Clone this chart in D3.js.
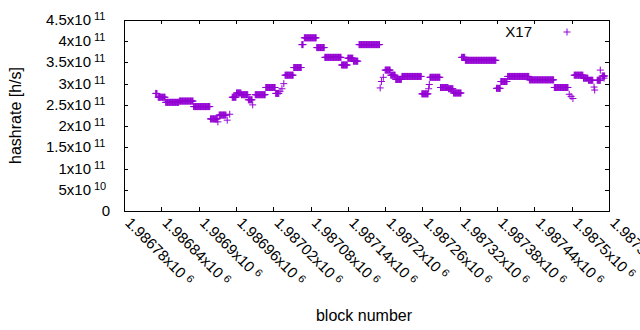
<!DOCTYPE html>
<html>
<head>
<meta charset="utf-8">
<script src="https://cdn.jsdelivr.net/npm/d3@7"></script>
<style>
  body { margin: 0; background: #fff; }
  text { font-family: "Liberation Sans", Arial, sans-serif; fill: #000; }
</style>
</head>
<body>
<div id="chart"></div>
<script>
// runs of blocks sharing the same hashrate (first block, last block, hashrate)
const runStart = [1986831, 1986835, 1986847, 1986869, 1986892, 1986919, 1986931, 1986933, 1986946, 1986950,
  1986954, 1986961, 1986969, 1986980, 1986987, 1986991, 1987008, 1987024, 1987031, 1987034,
  1987037, 1987039, 1987053, 1987066, 1987070, 1987090, 1987103, 1987130, 1987140, 1987149,
  1987158, 1987192, 1987194, 1987197, 1987200, 1987209, 1987217, 1987227, 1987259, 1987270,
  1987271, 1987272, 1987289, 1987302, 1987310, 1987323, 1987329, 1987379, 1987386, 1987397,
  1987432, 1987472, 1987496, 1987499, 1987502, 1987504, 1987519, 1987527, 1987536, 1987537,
  1987541, 1987546, 1987549, 1987552];
const runEnd = [1986833, 1986846, 1986868, 1986891, 1986918, 1986930, 1986931, 1986944, 1986946, 1986950,
  1986960, 1986968, 1986979, 1986986, 1986987, 1987007, 1987023, 1987029, 1987031, 1987034,
  1987037, 1987052, 1987065, 1987068, 1987089, 1987102, 1987129, 1987139, 1987148, 1987156,
  1987191, 1987192, 1987194, 1987197, 1987208, 1987216, 1987226, 1987258, 1987269, 1987270,
  1987271, 1987288, 1987301, 1987309, 1987322, 1987328, 1987378, 1987385, 1987396, 1987431,
  1987471, 1987494, 1987496, 1987499, 1987502, 1987518, 1987526, 1987534, 1987536, 1987537,
  1987546, 1987546, 1987553, 1987552];
const runRate = [2.77e11, 2.68e11, 2.56e11, 2.59e11, 2.46e11, 2.17e11, 2.10e11, 2.26e11, 2.14e11, 2.28e11,
  2.68e11, 2.78e11, 2.74e11, 2.62e11, 2.50e11, 2.74e11, 2.91e11, 2.77e11, 2.82e11, 2.88e11,
  3.00e11, 3.20e11, 3.38e11, 3.92e11, 4.08e11, 3.85e11, 3.62e11, 3.44e11, 3.60e11, 3.53e11,
  3.92e11, 2.90e11, 3.05e11, 3.15e11, 3.32e11, 3.20e11, 3.10e11, 3.17e11, 2.76e11, 2.88e11,
  2.98e11, 3.15e11, 2.91e11, 2.88e11, 2.78e11, 3.62e11, 3.55e11, 2.89e11, 3.05e11, 3.17e11,
  3.09e11, 2.91e11, 2.75e11, 2.70e11, 2.65e11, 3.20e11, 3.13e11, 3.08e11, 2.92e11, 2.85e11,
  3.08e11, 3.32e11, 3.18e11, 3.13e11];

const xTicks = [1986780, 1986840, 1986900, 1986960, 1987020, 1987080, 1987140,
  1987200, 1987260, 1987320, 1987380, 1987440, 1987500, 1987560];
const yTicks = [0, 5e10, 1e11, 1.5e11, 2e11, 2.5e11, 3e11, 3.5e11, 4e11, 4.5e11];
const seriesName = "X17";

const width = 640, height = 330;
const margin = {top: 20, right: 31, bottom: 119, left: 124};
const color = "#9400d3";

const svg = d3.select("#chart")
  .append("svg")
  .attr("width", width)
  .attr("height", height)
  .style("background", "#fff");

const x = d3.scaleLinear()
  .domain([xTicks[0], xTicks[xTicks.length - 1]])
  .range([margin.left, width - margin.right]);

const y = d3.scaleLinear()
  .domain([0, 4.5e11])
  .range([height - margin.bottom, margin.top]);

// split a value into mantissa and power of ten, gnuplot style
function sci(v) {
  if (v === 0) return ["0", ""];
  const e = Math.floor(Math.log10(v) + 1e-9);
  const m = +(v / Math.pow(10, e)).toFixed(6);
  return [m + "x10", String(e)];
}

// inward ticks on all four sides
const tick = 4;
svg.append("g")
  .attr("transform", `translate(${margin.left},0)`)
  .call(d3.axisLeft(y).tickValues(yTicks).tickSize(-tick).tickFormat(""))
  .call(g => g.select(".domain").remove());
svg.append("g")
  .attr("transform", `translate(${width - margin.right},0)`)
  .call(d3.axisRight(y).tickValues(yTicks).tickSize(-tick).tickFormat(""))
  .call(g => g.select(".domain").remove());
svg.append("g")
  .attr("transform", `translate(0,${height - margin.bottom})`)
  .call(d3.axisBottom(x).tickValues(xTicks).tickSize(-tick).tickFormat(""))
  .call(g => g.select(".domain").remove());
svg.append("g")
  .attr("transform", `translate(0,${margin.top})`)
  .call(d3.axisTop(x).tickValues(xTicks).tickSize(-tick).tickFormat(""))
  .call(g => g.select(".domain").remove());

svg.selectAll(".tick line").attr("stroke", "#000").attr("shape-rendering", "crispEdges");

svg.append("rect")
  .attr("x", margin.left + 0.5)
  .attr("y", margin.top + 0.5)
  .attr("width", width - margin.right - margin.left)
  .attr("height", height - margin.bottom - margin.top)
  .attr("fill", "none")
  .attr("stroke", "#000");

// y tick labels
const yLab = svg.append("g").style("font-size", "15px");
yTicks.forEach(v => {
  const [m, e] = sci(v);
  if (e === "") {
    yLab.append("text")
      .attr("x", 110).attr("y", y(v) + 5)
      .attr("text-anchor", "end")
      .text(m);
  } else {
    yLab.append("text")
      .attr("x", 91).attr("y", y(v) + 5)
      .attr("text-anchor", "end")
      .text(m);
    yLab.append("text")
      .attr("x", 94).attr("y", y(v))
      .style("font-size", "11px")
      .text(e);
  }
});

// x tick labels, rotated
xTicks.forEach(v => {
  const [m, e] = sci(v);
  const t = svg.append("text")
    .attr("transform", `translate(${x(v) + 4},${height - margin.bottom + 9}) rotate(45)`)
    .attr("dy", "0.35em")
    .style("font-size", "15px");
  t.append("tspan").text(m);
  t.append("tspan").attr("dx", 4).attr("dy", -4).style("font-size", "11px").text(e);
});

// axis titles
svg.append("text")
  .attr("transform", `translate(21,${(margin.top + height - margin.bottom) / 2}) rotate(-90)`)
  .attr("text-anchor", "middle")
  .style("font-size", "16px")
  .text("hashrate [h/s]");

svg.append("text")
  .attr("x", 364)
  .attr("y", 321)
  .attr("text-anchor", "middle")
  .style("font-size", "16px")
  .text("block number");

// points, one plus per block
const points = [];
runStart.forEach((s, i) => {
  d3.range(s, runEnd[i] + 1).forEach(b => points.push({block: b, rate: runRate[i]}));
});

const plus = "M-3.5,0H3.5M0,-3.5V3.5";
svg.append("g")
  .selectAll("path")
  .data(points)
  .enter()
  .append("path")
  .attr("transform", d => `translate(${x(d.block)},${y(d.rate)})`)
  .attr("d", plus)
  .attr("fill", "none")
  .attr("stroke", color)
  .attr("stroke-width", 1);

// legend
svg.append("text")
  .attr("x", 532)
  .attr("y", 37)
  .attr("text-anchor", "end")
  .style("font-size", "15px")
  .text(seriesName);
svg.append("path")
  .attr("transform", "translate(567,32)")
  .attr("d", plus)
  .attr("fill", "none")
  .attr("stroke", color);
</script>
</body>
</html>
